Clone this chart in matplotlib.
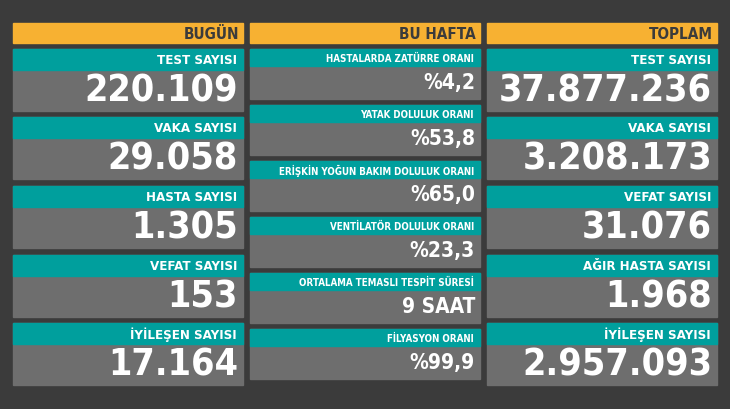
import matplotlib
matplotlib.use("Agg")
import matplotlib.pyplot as plt
from matplotlib.patches import Rectangle

headers = ["BUGÜN", "BU HAFTA", "TOPLAM"]
left_labels = ["TEST SAYISI", "VAKA SAYISI", "HASTA SAYISI", "VEFAT SAYISI", "İYİLEŞEN SAYISI"]
left_values = ["220.109", "29.058", "1.305", "153", "17.164"]
mid_labels = ["HASTALARDA ZATÜRRE ORANI", "YATAK DOLULUK ORANI", "ERİŞKİN YOĞUN BAKIM DOLULUK ORANI",
              "VENTİLATÖR DOLULUK ORANI", "ORTALAMA TEMASLI TESPİT SÜRESİ", "FİLYASYON ORANI"]
mid_values = ["%4,2", "%53,8", "%65,0", "%23,3", "9 SAAT", "%99,9"]
right_labels = ["TEST SAYISI", "VAKA SAYISI", "VEFAT SAYISI", "AĞIR HASTA SAYISI", "İYİLEŞEN SAYISI"]
right_values = ["37.877.236", "3.208.173", "31.076", "1.968", "2.957.093"]

BG = "#3b3b3b"; OR = "#f7b132"; TE = "#009f9d"; GR = "#6e6e6e"
fig = plt.figure(figsize=(7.3, 4.1), dpi=100, facecolor=BG)
ax = fig.add_axes([0, 0, 1, 1]); ax.set_xlim(0, 730); ax.set_ylim(410, 0); ax.axis("off")
F = dict(family="DejaVu Sans", stretch="condensed", weight="bold")

cols = [13, 250, 487]; W = 230
for x0, h in zip(cols, headers):
    ax.add_patch(Rectangle((x0, 24), W, 20, color=OR))
    ax.text(x0 + W - 4, 34.5, h, ha="right", va="center", color="#3b3b3b", fontsize=11, **F)

def card(x0, top, H, th, label, val, lfs, vfs, off):
    ax.add_patch(Rectangle((x0, top), W, H, color=GR))
    ax.add_patch(Rectangle((x0, top), W, th, color=TE))
    ax.text(x0 + W - 6, top + th / 2 + 0.5, label, ha="right", va="center", color="white", fontsize=lfs, **F)
    ax.text(x0 + W - 5, top + H - off, val, ha="right", va="baseline", color="white", fontsize=vfs, **F)

tops5 = [50, 118, 187, 256, 324]
for t, l, v in zip(tops5, left_labels, left_values):
    card(cols[0], t, 62, 21, l, v, 9.5, 27, 10)
for t, l, v in zip(tops5, right_labels, right_values):
    card(cols[2], t, 62, 21, l, v, 9.5, 27, 10)
tops6 = [50, 106, 162, 218, 274, 330]
for t, l, v in zip(tops6, mid_labels, mid_values):
    card(cols[1], t, 50, 17, l, v, 7, 15, 11)

fig.savefig("out.png", dpi=100, facecolor=BG)
